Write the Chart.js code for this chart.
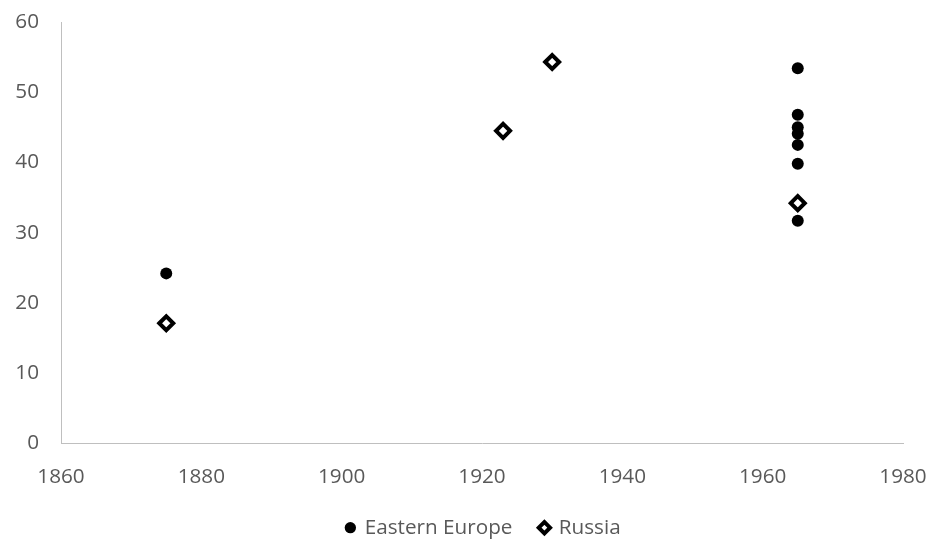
<!DOCTYPE html>
<html>
<head>
<meta charset="utf-8">
<title>Eastern Europe and Russia</title>
<script src="https://cdn.jsdelivr.net/npm/chart.js@4/dist/chart.umd.min.js"></script>
<style>
  html, body { margin: 0; padding: 0; background: #fff; }
  #wrap { width: 932px; height: 542px; position: relative; }
</style>
</head>
<body>
<div id="wrap"><canvas id="scatter"></canvas></div>
<script>
// series: year / value pairs
const eeYears = [1875, 1965, 1965, 1965, 1965, 1965, 1965, 1965];
const eeValues = [24.2, 53.4, 46.8, 45.0, 44.1, 42.5, 39.8, 31.7];
const ruYears = [1875, 1923, 1930, 1965];
const ruValues = [17.1, 44.5, 54.3, 34.2];

const seriesNames = ["Eastern Europe", "Russia"];

const xMin = 1860, xMax = 1980, xStep = 20;
const yMin = 0, yMax = 60, yStep = 10;

const toPoints = (xs, ys) => xs.map((x, i) => ({ x: x, y: ys[i] }));

Chart.defaults.font.family = "'Open Sans', sans-serif";
Chart.defaults.font.size = 20.7;
Chart.defaults.color = "#595959";

const axisColor = "#bfbfbf";

// nudge the legend row a little to the right of centre
const legendShift = {
    id: "legendShift",
    afterLayout(chart) {
        chart.legend.left += 32;
        chart.legend.right += 32;
    },
};

new Chart(document.getElementById("scatter").getContext("2d"), {
    type: "scatter",
    data: {
        datasets: [
            {
                label: seriesNames[0],
                data: toPoints(eeYears, eeValues),
                pointStyle: "circle",
                pointRadius: 6,
                pointHoverRadius: 6,
                backgroundColor: "#000",
                borderColor: "#000",
                borderWidth: 0,
            },
            {
                label: seriesNames[1],
                data: toPoints(ruYears, ruValues),
                pointStyle: "rectRot",
                pointRadius: 7,
                pointHoverRadius: 7,
                backgroundColor: "#fff",
                borderColor: "#000",
                borderWidth: 4,
            },
        ],
    },
    options: {
        responsive: true,
        maintainAspectRatio: false,
        animation: false,
        layout: { padding: { left: 0, top: 22, right: 29, bottom: -6 } },
        plugins: {
            tooltip: { enabled: false },
            legend: {
                position: "bottom",
                labels: {
                    usePointStyle: true,
                    boxWidth: 8,
                    boxHeight: 8,
                    padding: 28,
                    color: "#595959",
                },
            },
        },
        scales: {
            x: {
                type: "linear",
                min: xMin,
                max: xMax,
                // no grid lines or tick marks, the tick length only spaces the labels
                grid: { display: false, drawTicks: true, tickLength: 19 },
                border: { display: true, color: axisColor, width: 1 },
                ticks: {
                    stepSize: xStep,
                    padding: 2,
                    maxRotation: 0,
                    callback: v => String(v),
                },
                afterFit: scale => { scale.height = 46; },
            },
            y: {
                min: yMin,
                max: yMax,
                grid: { display: false, drawTicks: true, tickLength: 20 },
                border: { display: true, color: axisColor, width: 1 },
                ticks: { stepSize: yStep, padding: 2 },
                afterFit: scale => { scale.width = 61; },
            },
        },
    },
    plugins: [legendShift],
});
</script>
</body>
</html>
